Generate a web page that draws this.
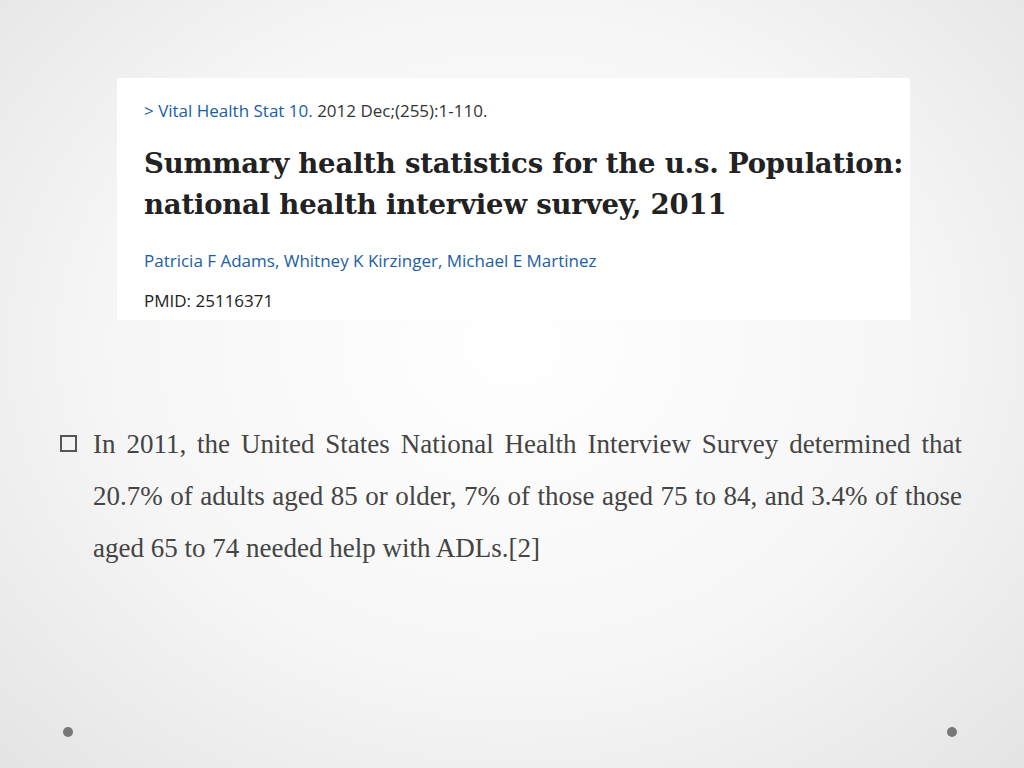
<!DOCTYPE html>
<html>
<head>
<meta charset="utf-8">
<script src="https://cdn.jsdelivr.net/npm/chart.js@4"></script>
<style>
  html, body { margin: 0; padding: 0; }
  body {
    width: 1024px; height: 768px; overflow: hidden; position: relative;
    background: radial-gradient(ellipse at 50% 45%, #ffffff 0%, #f6f6f6 55%, #e4e4e4 100%);
  }
  #card {
    position: absolute; left: 117px; top: 78px; width: 793px; height: 242px;
    background: #fff; font-family: "Open Sans", sans-serif;
  }
  #card div { position: absolute; left: 27px; white-space: nowrap; }
  .blue { color: #1a5ea8; }
  #cite { top: 21px; font-size: 17px; }
  #cite span { color: #333; }
  #title { top: 65px; font-family: "DejaVu Serif", serif; font-weight: bold; font-size: 27.5px; line-height: 41px; color: #222; letter-spacing: -0.2px; }
  #authors { top: 171px; font-size: 17px; }
  #pmid { top: 211px; font-size: 17px; color: #222; }
  #bullet {
    position: absolute; left: 93px; top: 418px; width: 869px;
    font-family: "Liberation Serif", serif; font-size: 27px; line-height: 52px;
    color: #444; text-align: justify;
  }
  #box {
    position: absolute; left: 60px; top: 435px; width: 13px; height: 13px;
    border: 2px solid #555;
  }
  .dot { position: absolute; top: 727px; width: 10px; height: 10px; border-radius: 50%; background: #777; }
</style>
</head>
<body>
<div id="card">
  <div id="cite" class="blue">&gt; Vital Health Stat 10. <span>2012 Dec;(255):1-110.</span></div>
  <div id="title">Summary health statistics for the u.s. Population:<br>national health interview survey, 2011</div>
  <div id="authors" class="blue">Patricia F Adams, Whitney K Kirzinger, Michael E Martinez</div>
  <div id="pmid">PMID: 25116371</div>
</div>
<div id="box"></div>
<div id="bullet"></div>
<div class="dot" style="left:63px"></div>
<div class="dot" style="left:947px"></div>
<script>
// values quoted in the slide text
const ageGroups = ['85 or older', '75 to 84', '65 to 74'];
const needHelpPct = [20.7, 7, 3.4];

document.getElementById('bullet').textContent =
  'In 2011, the United States National Health Interview Survey determined that ' +
  needHelpPct[0] + '% of adults aged ' + ageGroups[0] + ', ' +
  needHelpPct[1] + '% of those aged ' + ageGroups[1] + ', and ' +
  needHelpPct[2] + '% of those aged ' + ageGroups[2] + ' needed help with ADLs.[2]';
</script>
</body>
</html>
